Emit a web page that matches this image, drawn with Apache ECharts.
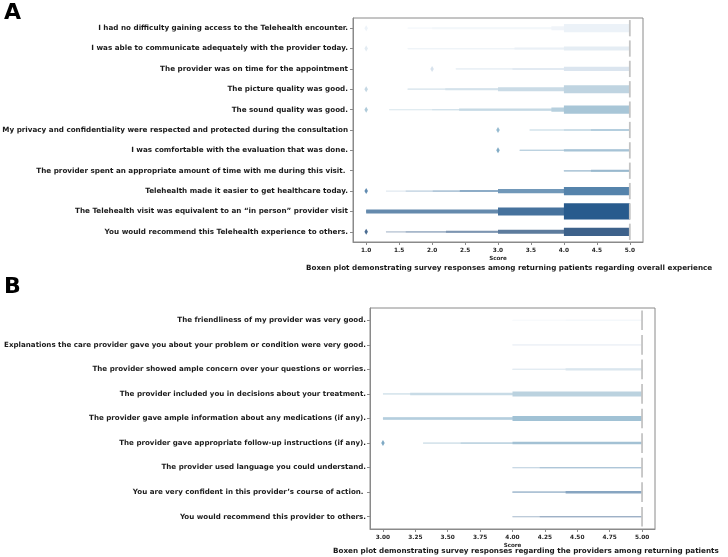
<!DOCTYPE html>
<html><head><meta charset="utf-8">
<script src="https://cdn.jsdelivr.net/npm/echarts@6/dist/echarts.min.js"></script>
<style>html,body{margin:0;padding:0;background:#fff}#c{width:728px;height:557px}</style>
</head><body><div id="c"></div><script>
// ---------- Panel A data ----------
const catsA = [
  "I had no difficulty gaining access to the Telehealth encounter.",
  "I was able to communicate adequately with the provider today.",
  "The provider was on time for the appointment",
  "The picture quality was good.",
  "The sound quality was good.",
  "My privacy and confidentiality were respected and protected during the consultation",
  "I was comfortable with the evaluation that was done.",
  "The provider spent an appropriate amount of time with me during this visit. ",
  "Telehealth made it easier to get healthcare today.",
  "The Telehealth visit was equivalent to an \u201cin person\u201d provider visit",
  "You would recommend this Telehealth experience to others."
];
// lower ends of the letter-value boxes, innermost (quartiles) first
const lowsA = [
  [5, 4, 3.81, 2.0, 1.63, 1.63, 1.63],
  [5, 5, 4, 3.25, 1.63, 1.63, 1.63],
  [5, 5, 4, 3.22, 2.36, 2.36, 2.36],
  [5, 4, 3, 2.2, 1.63, 1.63, 1.63],
  [5, 4, 3.81, 2.41, 2.0, 1.35, 1.35],
  [5, 5, 5, 4.41, 4.0, 3.48, 3.48],
  [5, 5, 5, 4.0, 3.33, 3.33, 3.33],
  [5, 5, 5, 4.41, 4.0, 4.0, 4.0],
  [5, 4, 3, 2.42, 2.01, 1.6, 1.3],
  [4, 3, 1, 1, 1, 1, 1],
  [5, 4, 3, 2.21, 1.6, 1.3, 1.3]
];
const highsA = [5, 5, 5, 5, 5, 5, 5, 5, 5, 5, 5];
const mediansA = [5, 5, 5, 5, 5, 5, 5, 5, 5, 5, 5];
const outliersA = [[1], [1], [2], [1], [1], [3], [3], [], [1], [], [1]];
const ticksA = [1.0, 1.5, 2.0, 2.5, 3.0, 3.5, 4.0, 4.5, 5.0];
const tickLabelsA = ["1.0", "1.5", "2.0", "2.5", "3.0", "3.5", "4.0", "4.5", "5.0"];
const titleA = "Boxen plot demonstrating survey responses among returning patients regarding overall experience";

// ---------- Panel B data ----------
const catsB = [
  "The friendliness of my provider was very good.",
  "Explanations the care provider gave you about your problem or condition were very good.",
  "The provider showed ample concern over your questions or worries.",
  "The provider included you in decisions about your treatment.",
  "The provider gave ample information about any medications (if any).",
  "The provider gave appropriate follow-up instructions (if any).",
  "The provider used language you could understand.",
  "You are very confident in this provider\u2019s course of action. ",
  "You would recommend this provider to others."
];
const lowsB = [
  [5, 5, 5, 5, 4.41, 4.0, 4.0],
  [5, 5, 5, 5, 4.0, 4.0, 4.0],
  [5, 5, 5, 4.41, 4.0, 4.0, 4.0],
  [5, 5, 4.0, 3.21, 3.0, 3.0, 3.0],
  [5, 5, 4.0, 3.0, 3.0, 3.0, 3.0],
  [5, 5, 5, 4.0, 3.6, 3.31, 3.31],
  [5, 5, 5, 5, 4.21, 4.0, 4.0],
  [5, 5, 5, 4.41, 4.0, 4.0, 4.0],
  [5, 5, 5, 5, 4.21, 4.0, 4.0]
];
const highsB = [5, 5, 5, 5, 5, 5, 5, 5, 5];
const mediansB = [5, 5, 5, 5, 5, 5, 5, 5, 5];
const outliersB = [[], [], [], [], [], [3], [], [], []];
const ticksB = [3.0, 3.25, 3.5, 3.75, 4.0, 4.25, 4.5, 4.75, 5.0];
const tickLabelsB = ["3.00", "3.25", "3.50", "3.75", "4.00", "4.25", "4.50", "4.75", "5.00"];
const titleB = "Boxen plot demonstrating survey responses regarding the providers among returning patients";

// ---------- colours ----------
const bluesStops = ['#f7fbff','#deebf7','#c6dbef','#9ecae1','#6baed6','#4292c6','#2171b5','#08519c','#08306b'];
function hex2rgb(h){return [parseInt(h.slice(1,3),16),parseInt(h.slice(3,5),16),parseInt(h.slice(5,7),16)];}
function rgb2hex(c){return '#'+c.map(v=>Math.round(Math.max(0,Math.min(255,v))).toString(16).padStart(2,'0')).join('');}
function sampleBlues(t){
  const s=t*(bluesStops.length-1), i=Math.min(Math.floor(s),bluesStops.length-2), f=s-i;
  const a=hex2rgb(bluesStops[i]), b=hex2rgb(bluesStops[i+1]);
  return a.map((v,k)=>v+(b[k]-v)*f);
}
function desat(c, p){
  const [r,g,b]=c.map(v=>v/255);
  const mx=Math.max(r,g,b), mn=Math.min(r,g,b), l=(mx+mn)/2;
  if(mx===mn) return c;
  const d=mx-mn, s=l>0.5?d/(2-mx-mn):d/(mx+mn);
  let h; if(mx===r) h=((g-b)/d+(g<b?6:0)); else if(mx===g) h=(b-r)/d+2; else h=(r-g)/d+4; h/=6;
  const s2=s*p;
  const q=l<0.5?l*(1+s2):l+s2-l*s2, pp=2*l-q;
  const hue=(t)=>{if(t<0)t+=1;if(t>1)t-=1;if(t<1/6)return pp+(q-pp)*6*t;if(t<1/2)return q;if(t<2/3)return pp+(q-pp)*(2/3-t)*6;return pp;};
  return [hue(h+1/3),hue(h),hue(h-1/3)].map(v=>v*255);
}
function palette(n){const out=[];for(let i=1;i<=n;i++){out.push(desat(sampleBlues(i/(n+1)),0.68));}return out;}
const K = 7;
function levelColor(base, j){
  const v = j/(K-1), w = 0.85*v;
  return rgb2hex(base.map(c=>c*(1-w)+255*w));
}
const palA = palette(catsA.length), palB = palette(catsB.length);

// ---------- series builders ----------
function boxenSeries(idx, lows, highs, pal){
  const data=[];
  lows.forEach((lv,r)=>{for(let j=lv.length-1;j>=0;j--){data.push([lv[j],highs[r],r,j]);}});
  return {type:'custom', xAxisIndex:idx, yAxisIndex:idx, data, encode:{x:[0,1], y:2}, z:2,
    renderItem(params, api){
      const lo=api.value(0), hi=api.value(1), r=api.value(2), j=api.value(3);
      if(hi-lo<=0) return null;
      const a=api.coord([lo,r]), b=api.coord([hi,r]);
      const band=api.size([0,1])[1];
      const h=Math.max(band*0.8*Math.pow(0.5,j),1.3);
      return {type:'rect', shape:{x:a[0], y:a[1]-h/2, width:b[0]-a[0], height:h},
        style:{fill:levelColor(pal[r],j)}};
    }};
}
function medianSeries(idx, meds){
  return {type:'custom', xAxisIndex:idx, yAxisIndex:idx, data:meds.map((m,r)=>[m,r]), encode:{x:0,y:1}, z:3,
    renderItem(params, api){
      const p=api.coord([api.value(0),api.value(1)]);
      const band=api.size([0,1])[1];
      return {type:'line', shape:{x1:p[0],y1:p[1]-band*0.4,x2:p[0],y2:p[1]+band*0.4},
        style:{stroke:'#c4c4c4', lineWidth:1.8}};
    }};
}
function outlierSeries(idx, outs, pal){
  const data=[];
  outs.forEach((o,r)=>o.forEach(v=>data.push({value:[v,r], itemStyle:{color:rgb2hex(pal[r])}})));
  return {type:'scatter', xAxisIndex:idx, yAxisIndex:idx, data, symbol:'diamond', symbolSize:[3.5,6], z:4, silent:true};
}

const fontFam = 'DejaVu Sans';
const axisCol = '#8a8a8a';
function xAx(idx, min, max, ticks, labels){
  return {type:'value', gridIndex:idx, min, max,
    axisLine:{show:true, lineStyle:{color:axisCol, width:1}},
    axisTick:{show:true, length:3, customValues:ticks, lineStyle:{color:axisCol}},
    axisLabel:{customValues:ticks, formatter:(v)=>labels[ticks.findIndex(t=>Math.abs(t-v)<1e-6)] ?? '',
      fontSize:5.8, fontWeight:'bold', color:'#262626', fontFamily:fontFam, margin:5},
    splitLine:{show:false},
    name:'Score', nameLocation:'middle', nameGap:14,
    nameTextStyle:{fontSize:5.6, fontWeight:'bold', color:'#262626', fontFamily:fontFam}};
}
function yAx(idx, cats, margin, fs){
  return {type:'category', gridIndex:idx, data:cats, inverse:true,
    axisLine:{show:true, lineStyle:{color:axisCol}},
    axisTick:{show:true, length:3, alignWithLabel:true, lineStyle:{color:axisCol}},
    axisLabel:{fontSize:fs, fontWeight:'bold', color:'#1a1a1a', fontFamily:fontFam, margin},
    splitLine:{show:false}};
}

const chart = echarts.init(document.getElementById('c'), null, {renderer:'canvas'});
chart.setOption({
  animation:false,
  backgroundColor:'#ffffff',
  grid:[
    {left:353, top:18, width:290, height:224, show:true, borderColor:axisCol, borderWidth:1, containLabel:false, outerBoundsMode:'none'},
    {left:370, top:308, width:285, height:221, show:true, borderColor:axisCol, borderWidth:1, containLabel:false, outerBoundsMode:'none'}
  ],
  xAxis:[xAx(0,0.8,5.2,ticksA,tickLabelsA), xAx(1,2.9,5.1,ticksB,tickLabelsB)],
  yAxis:[yAx(0,catsA,5,7.2), yAx(1,catsB,4,7.1)],
  series:[
    boxenSeries(0,lowsA,highsA,palA), medianSeries(0,mediansA), outlierSeries(0,outliersA,palA),
    boxenSeries(1,lowsB,highsB,palB), medianSeries(1,mediansB), outlierSeries(1,outliersB,palB)
  ],
  graphic:[
    {type:'text', left:4, top:2, style:{text:'A', fontSize:22, fontWeight:'bold', fill:'#000', fontFamily:fontFam}},
    {type:'text', left:4, top:276, style:{text:'B', fontSize:22, fontWeight:'bold', fill:'#000', fontFamily:fontFam}},
    {type:'text', x:306, y:268, style:{text:titleA, fontSize:7.2, fontWeight:'bold', fill:'#1a1a1a', fontFamily:fontFam, textVerticalAlign:'middle'}},
    {type:'text', x:333, y:551, style:{text:titleB, fontSize:7.2, fontWeight:'bold', fill:'#1a1a1a', fontFamily:fontFam, textVerticalAlign:'middle'}}
  ]
});
</script></body></html>
